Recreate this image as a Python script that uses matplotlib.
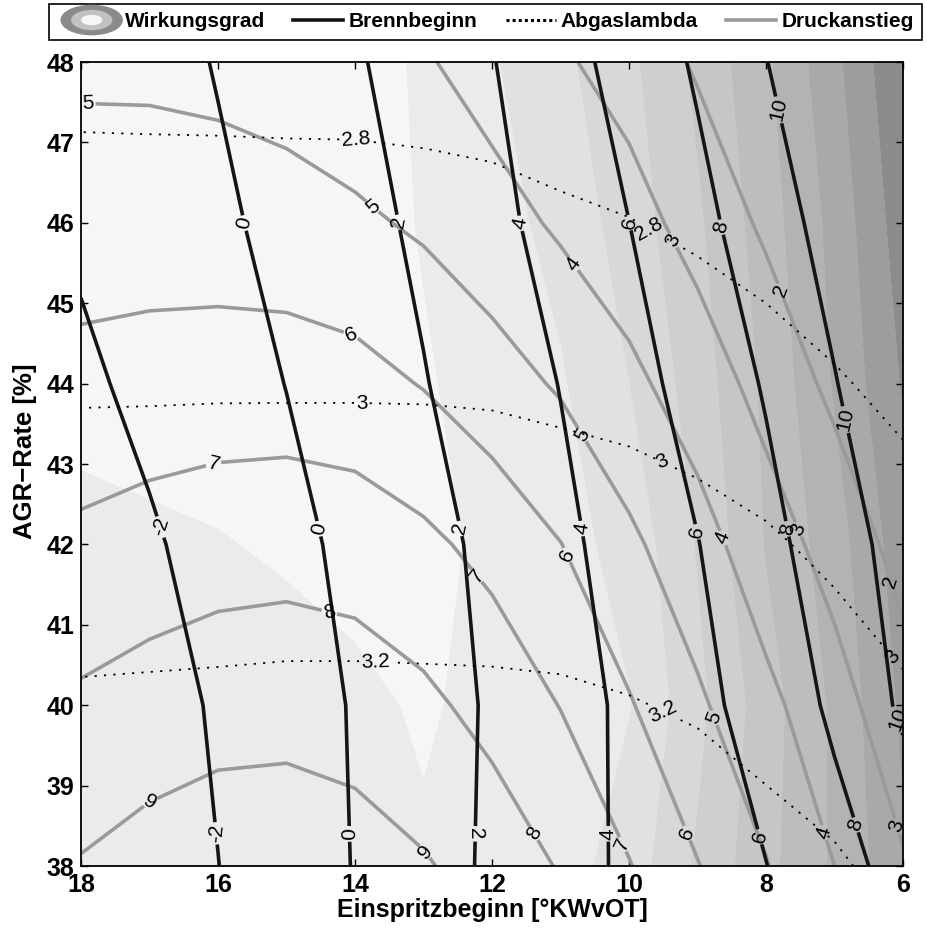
import numpy as np
import matplotlib
matplotlib.use("Agg")
import matplotlib.pyplot as plt
from matplotlib.lines import Line2D
from matplotlib.patches import Ellipse, Patch
from matplotlib.legend_handler import HandlerBase

plt.rcParams['font.family'] = ['Liberation Sans', 'DejaVu Sans']

#region DATA (grid, rows = AGR-Rate, columns = Einspritzbeginn)

einspritzbeginn = [18, 17, 16, 15, 14, 13, 12, 11, 10, 9, 8, 7, 6]  # °KWvOT
agr_rate = [38, 40, 42, 44, 46, 48]  # %

# Wirkungsgrad (relative scale, higher = better / lighter)
wirkungsgrad = [
    [9.80, 9.85, 9.90, 10.00, 10.10, 10.25, 10.10, 9.90, 9.04, 7.33, 5.79, 4.33, 2.67],
    [9.70, 9.75, 9.80, 9.79, 10.10, 10.70, 9.99, 9.89, 9.54, 7.77, 5.95, 4.30, 2.28],
    [9.72, 10.10, 10.40, 10.70, 11.10, 10.80, 10.27, 9.84, 9.17, 7.41, 5.42, 3.95, 1.90],
    [11.40, 11.50, 11.40, 11.20, 11.00, 10.60, 10.10, 9.60, 8.50, 7.00, 5.27, 3.39, 1.40],
    [11.60, 11.60, 11.50, 11.30, 11.00, 10.42, 9.88, 9.17, 8.03, 6.65, 4.96, 3.17, 0.94],
    [11.60, 11.60, 11.50, 11.30, 11.04, 10.31, 9.59, 8.73, 7.72, 6.25, 4.67, 2.75, 0.52],
]

# Brennbeginn [°KW]
brennbeginn = [
    [-4.06, -3.03, -2.02, -0.97, 0.07, 1.18, 2.28, 3.32, 4.29, 5.13, 5.97, 7.32, 8.68],
    [-3.70, -2.75, -1.79, -0.83, 0.13, 1.17, 2.21, 3.26, 4.34, 5.49, 6.79, 8.32, 10.30],
    [-3.07, -2.21, -1.34, -0.48, 0.43, 1.39, 2.43, 3.59, 4.77, 5.95, 7.42, 9.05, 10.78],
    [-2.33, -1.55, -0.76, 0.03, 0.97, 1.91, 2.97, 4.05, 5.35, 6.68, 8.16, 9.91, 11.73],
    [-1.71, -1.01, -0.31, 0.50, 1.39, 2.35, 3.50, 4.71, 5.99, 7.47, 9.05, 10.76, 12.60],
    [-1.46, -0.68, 0.10, 0.96, 1.81, 2.84, 3.92, 5.28, 6.72, 8.24, 9.95, 11.76, 13.50],
]

# Abgaslambda [-]
abgaslambda = [
    [3.340, 3.347, 3.352, 3.359, 3.359, 3.356, 3.355, 3.354, 3.335, 3.308, 3.260, 3.219, 3.150],
    [3.221, 3.225, 3.229, 3.234, 3.234, 3.232, 3.230, 3.225, 3.208, 3.182, 3.141, 3.094, 3.031],
    [3.101, 3.104, 3.107, 3.110, 3.110, 3.108, 3.105, 3.095, 3.081, 3.057, 3.021, 2.965, 2.891],
    [2.982, 2.983, 2.985, 2.985, 2.985, 2.984, 2.979, 2.964, 2.948, 2.918, 2.876, 2.818, 2.751],
    [2.866, 2.865, 2.865, 2.864, 2.863, 2.858, 2.849, 2.827, 2.805, 2.769, 2.724, 2.671, 2.611],
    [2.749, 2.747, 2.745, 2.742, 2.741, 2.733, 2.719, 2.690, 2.662, 2.619, 2.573, 2.524, 2.471],
]

# Druckanstieg [bar/°KW]
druckanstieg = [
    [9.07, 9.39, 9.59, 9.62, 9.44, 9.09, 8.58, 7.93, 7.05, 6.04, 5.05, 4.00, 3.09],
    [8.16, 8.41, 8.60, 8.65, 8.53, 8.21, 7.68, 6.97, 6.08, 5.16, 4.24, 3.37, 2.38],
    [7.20, 7.41, 7.57, 7.64, 7.55, 7.22, 6.69, 6.02, 5.19, 4.37, 3.46, 2.64, 1.66],
    [6.28, 6.38, 6.45, 6.46, 6.34, 5.95, 5.41, 4.89, 4.23, 3.51, 2.67, 1.77, 1.00],
    [5.52, 5.54, 5.51, 5.42, 5.19, 4.84, 4.41, 3.85, 3.37, 2.65, 1.84, 1.20, 0.60],
    [4.82, 4.80, 4.71, 4.51, 4.20, 4.11, 3.55, 3.13, 2.62, 1.88, 1.20, 0.80, 0.30],
]

wirkungsgrad_levels = [0.5, 1.5, 2.5, 3.5, 4.5, 5.5, 6.5, 7.5, 8.5, 9.5, 10.5, 12.5]
brennbeginn_levels = [-2, 0, 2, 4, 6, 8, 10]
lambda_levels = [2.8, 3.0, 3.2]
druck_levels = [2, 3, 4, 5, 6, 7, 8, 9]

#endregion

#region STYLE

band_colors = ['#8c8c8d', '#9d9d9e', '#a9a9aa', '#b3b3b4', '#bdbdbe', '#c6c6c7',
               '#cfcfd0', '#d8d8d9', '#e1e1e2', '#ebebec', '#f6f6f6']
black = '#151515'
gray = '#9a9a9a'

# where the contour labels sit (x, y)
brenn_label_pos = [(16.9, 42.2), (16.1, 38.4), (15.6, 46.0), (14.5, 42.2), (14.06, 38.4),
                   (13.4, 46.0), (12.45, 42.2), (12.25, 38.4), (11.55, 46.0), (10.67, 42.2),
                   (10.33, 38.4), (10.0, 46.0), (9.04, 42.15), (8.15, 38.35), (8.63, 45.95),
                   (7.65, 42.2), (6.73, 38.5), (7.84, 47.4), (6.85, 43.55), (6.15, 39.8)]
druck_label_pos = [(17.9, 47.48), (13.84, 46.1), (10.69, 43.36), (8.82, 39.82),
                   (14.1, 44.5), (10.9, 41.87), (9.15, 38.41),
                   (16.07, 43.02), (12.18, 41.64), (10.09, 38.27),
                   (14.36, 41.21), (11.42, 38.39), (17.0, 38.82), (12.96, 38.19),
                   (10.89, 45.44), (8.57, 42.1), (7.17, 38.41),
                   (9.4, 45.76), (7.5, 42.2), (6.15, 38.48), (7.77, 45.16), (6.23, 41.52)]
lambda_label_pos = [(13.99, 47.03), (9.69, 45.95), (13.9, 43.76), (9.5, 43.05),
                    (6.15, 40.6), (13.7, 40.56), (9.5, 39.94)]

#endregion

#region PLOT

X, Y = np.meshgrid(einspritzbeginn, agr_rate)

fig = plt.figure(figsize=(9.28, 9.33), dpi=100)
ax = fig.add_axes([81 / 928, 1 - 866 / 933, 822 / 928, 804 / 933])

ax.contourf(X, Y, np.array(wirkungsgrad), levels=wirkungsgrad_levels, colors=band_colors, zorder=0)

cs_druck = ax.contour(X, Y, np.array(druckanstieg), levels=druck_levels, colors=gray, linewidths=2.6, zorder=2)
cs_brenn = ax.contour(X, Y, np.array(brennbeginn), levels=brennbeginn_levels, colors=black, linewidths=2.6,
                      negative_linestyles='solid', zorder=3)
cs_lambda = ax.contour(X, Y, np.array(abgaslambda), levels=lambda_levels, colors='black', linewidths=1.3,
                       linestyles=[(0, (1.2, 4.0))], zorder=4)

label_font = 15
ax.clabel(cs_druck, fmt='%g', fontsize=label_font, colors='black', inline=True, inline_spacing=2,
          manual=druck_label_pos)
ax.clabel(cs_brenn, fmt='%g', fontsize=label_font, colors='black', inline=True, inline_spacing=2,
          manual=brenn_label_pos)
ax.clabel(cs_lambda, fmt='%g', fontsize=label_font, colors='black', inline=True, inline_spacing=2,
          manual=lambda_label_pos)

ax.set_xlim(18, 6)
ax.set_ylim(38, 48)
ax.set_xticks([18, 16, 14, 12, 10, 8, 6])
ax.set_yticks(range(38, 49))
ax.tick_params(direction='in', top=True, right=True, length=5, width=1, labelsize=18, pad=5)
for lab in ax.get_xticklabels() + ax.get_yticklabels():
    lab.set_fontweight('bold')
for sp in ax.spines.values():
    sp.set_linewidth(1.3)

ax.set_xlabel('Einspritzbeginn [°KWvOT]', fontsize=18, fontweight='bold', labelpad=1)
ax.set_ylabel('AGR\u2212Rate [%]', fontsize=18.5, fontweight='bold')
ax.yaxis.set_label_coords(-0.054, 0.516)

#endregion

#region LEGEND

class EllipseHandler(HandlerBase):
    def create_artists(self, legend, orig_handle, xdescent, ydescent, width, height, fontsize, trans):
        cx = 0.5 * width - xdescent + 0.05 * width
        cy = 0.5 * height - ydescent
        rings = [(1.0, '#8a8a8a'), (0.66, '#c2c2c2'), (0.34, '#f6f6f6')]
        return [Ellipse((cx, cy), width * s, 2.1 * height * s, facecolor=c, edgecolor='none',
                        transform=trans) for s, c in rings]

class ShortLineHandler(HandlerBase):
    # line sample only on the right part of the handle box
    def create_artists(self, legend, orig_handle, xdescent, ydescent, width, height, fontsize, trans):
        y = 0.5 * height - ydescent
        line = Line2D([-xdescent + 0.2 * width, -xdescent + width], [y, y])
        line.update_from(orig_handle)
        line.set_transform(trans)
        return [line]

wirk_handle = Patch()
handles = [wirk_handle,
           Line2D([], [], color=black, lw=2.6),
           Line2D([], [], color='black', lw=2.2, ls=(0, (1, 1))),
           Line2D([], [], color=gray, lw=2.6)]
labels = ['Wirkungsgrad', 'Brennbeginn', 'Abgaslambda', 'Druckanstieg']
hmap = {wirk_handle: EllipseHandler()}
for h in handles[1:]:
    hmap[h] = ShortLineHandler()
leg = fig.legend(handles, labels, loc='upper left', bbox_to_anchor=(49 / 928, 1 - 4 / 933), ncol=4,
                 frameon=True, fancybox=False, framealpha=1, edgecolor='black',
                 prop={'weight': 'bold', 'size': 15}, handlelength=3.0, handletextpad=0.25,
                 columnspacing=0.75, borderpad=0.4, borderaxespad=0, handler_map=hmap)
leg.get_frame().set_linewidth(1.2)

#endregion

fig.savefig('out.png', dpi=100)
